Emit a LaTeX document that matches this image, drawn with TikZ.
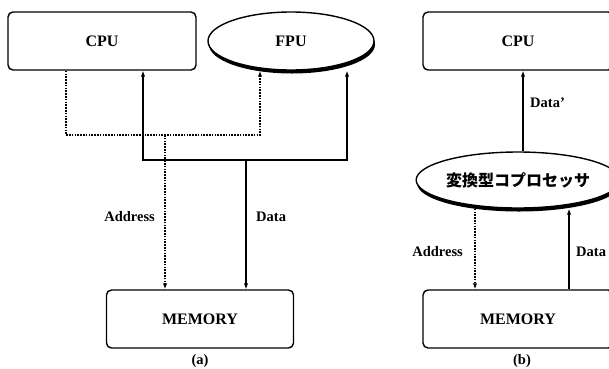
\documentclass[tikz,border=0pt]{standalone}
\usepackage{fontspec}
\setmainfont{Liberation Serif}
\newfontfamily\cjk{Noto Sans CJK JP}
\usetikzlibrary{arrows.meta, shapes.geometric, shadows}

\tikzset{
  unit/.style={draw, line width=1.4pt, rounded corners=5pt, minimum width=188pt, minimum height=58pt, font=\fontsize{16}{18}\selectfont\bfseries},
  coproc/.style={ellipse, draw, fill=white, line width=1.4pt, inner sep=0pt, drop shadow={shadow xshift=1pt, shadow yshift=-3.5pt, fill=black, opacity=1}, font=\fontsize{16}{18}\selectfont\bfseries},
  bus/.style={line width=1.1pt, -{Latex[length=6pt,width=4.5pt]}},
  addr/.style={bus, dash pattern=on 1.6pt off 1.2pt, line width=1.7pt},
  lbl/.style={font=\fontsize{14.5}{16}\selectfont\bfseries, inner sep=0pt}
}

\begin{document}
\begin{tikzpicture}[x=1pt, y=-1pt]
    \useasboundingbox (0,0) rectangle (609,368);
    % (a) CPU + FPU on a shared bus
    \node (cpua) [unit] at (102,41) {CPU};
    \node (fpu) [coproc, minimum width=166pt, minimum height=58pt] at (291,41) {FPU};
    \node (mema) [unit, minimum width=187pt] at (200,319) {MEMORY};
    \node (capa) [lbl] at (200,361) {(a)};
    \coordinate (abus) at (165,135);
    \coordinate (dbus) at (246,160);
    \draw[addr] (cpua.south -| 66,0) |- (abus) -| (fpu.south -| 260,0);
    \draw[addr] (abus) -- (mema.north -| abus);
    \draw[bus] (dbus) -| (cpua.south -| 143,0);
    \draw[bus] (dbus) -| (fpu.south -| 347,0);
    \draw[bus] (dbus) -- (mema.north -| dbus);
    \node (adra) [lbl, anchor=east] at (155,217) {Address};
    \node (data) [lbl, anchor=west] at (256,217) {Data};
    % (b) coprocessor between memory and CPU
    \node (cpub) [unit, minimum width=190pt] at (518,41) {CPU};
    \node (conv) [coproc, minimum width=187pt, minimum height=56pt, font=\cjk\fontsize{16}{18}\selectfont\bfseries] at (518,180) {変換型コプロセッサ};
    \node (memb) [unit, minimum width=190pt] at (518,319) {MEMORY};
    \node (capb) [lbl] at (522,361) {(b)};
    \draw[bus] (conv.north -| 523,0) -- (cpub.south -| 523,0);
    \draw[addr] (conv.south -| 475,0) -- (memb.north -| 475,0);
    \draw[bus] (memb.north -| 569,0) -- (conv.south -| 569,0);
    \node (dprime) [lbl, anchor=west] at (530,103) {Data'};
    \node (adrb) [lbl, anchor=east] at (463,252) {Address};
    \node (datb) [lbl, anchor=west] at (576,252) {Data};
\end{tikzpicture}
\end{document}
